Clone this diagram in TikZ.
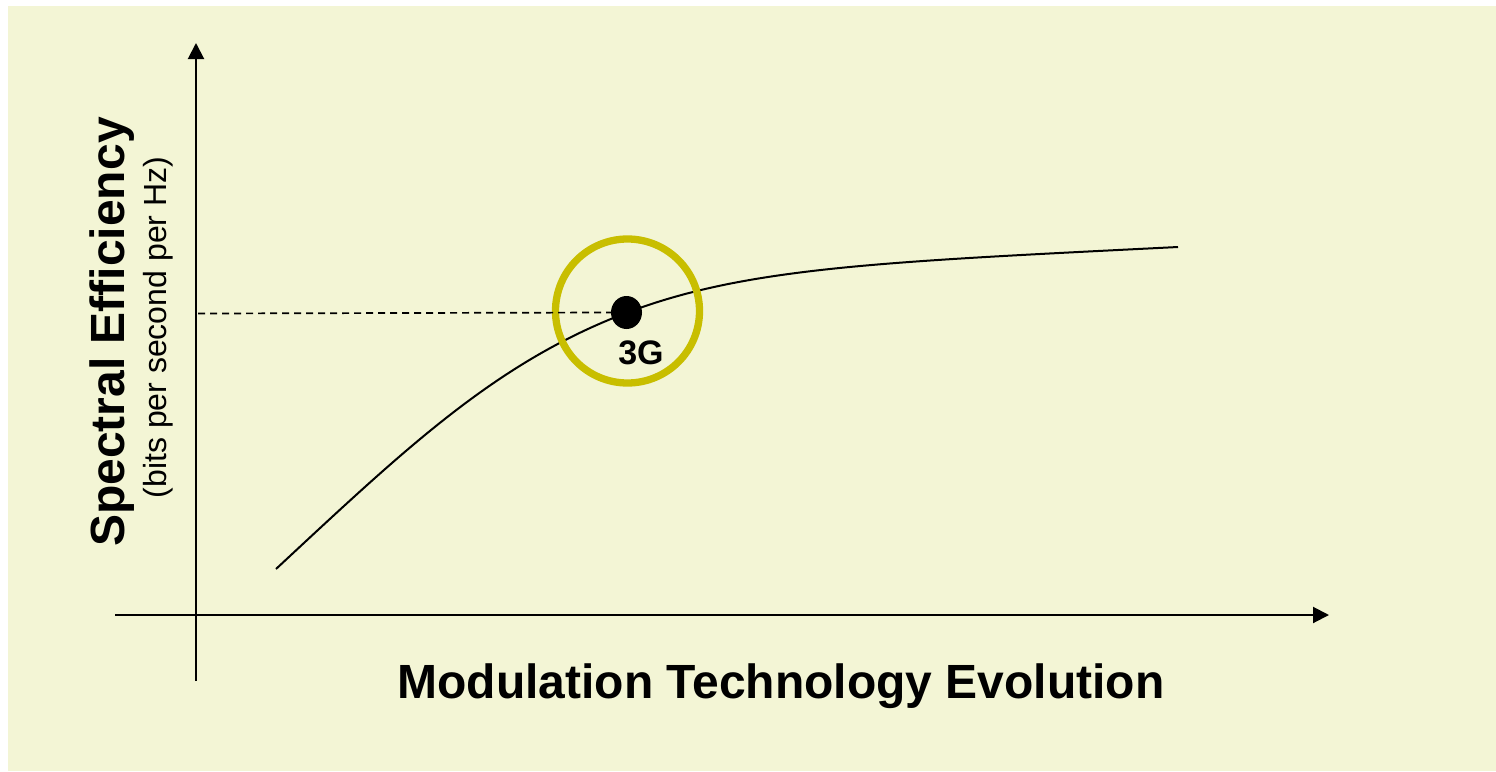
\documentclass[tikz,border=0pt]{standalone}
\usepackage{fontspec}
\setmainfont{Liberation Sans}
\usetikzlibrary{arrows.meta,shapes.geometric}
\definecolor{bgyellow}{RGB}{243,245,213}
\definecolor{ringolive}{RGB}{200,190,0}
\tikzset{
  axisline/.style={line width=2pt, draw=black},
  axisarrow/.style={axisline, -{Triangle[length=16pt,width=16pt]}},
  curveline/.style={line width=2pt, draw=black},
  guideline/.style={line width=1.7pt, draw=black, dash pattern=on 7pt off 5pt},
  bigbold/.style={font=\fontsize{48}{48}\selectfont\bfseries, inner sep=0pt},
  sublabel/.style={font=\fontsize{32}{32}\selectfont, inner sep=0pt},
  dotlabel/.style={font=\fontsize{34}{34}\selectfont\bfseries, inner sep=0pt},
}
\begin{document}
\begin{tikzpicture}[x=1pt,y=-1pt]
\useasboundingbox (0,0) rectangle (1496,771);
\fill[white] (0,0) rectangle (1496,771);
\fill[bgyellow] (8,6) rectangle (1496,771);

% axes
\coordinate (ybot) at (196,681);
\coordinate (ytop) at (196,43);
\coordinate (xleft) at (115,615);
\coordinate (xright) at (1329,615);
\draw[axisarrow] (ybot) -- (ytop);
\draw[axisarrow] (xleft) -- (xright);

% curve
\coordinate (cstart) at (276,569);
\coordinate (cmid) at (626,313);
\coordinate (cend) at (1178,247);
\draw[curveline] (cstart) .. controls (406,448) and (496,362.4) .. (cmid)
  .. controls (746,267.4) and (878,262) .. (cend);

% ring
\node[circle, draw=ringolive, line width=7.3pt, minimum size=144pt, inner sep=0pt] (ring) at (627.5,311) {};

% 3G point
\node[ellipse, fill=black, minimum width=31pt, minimum height=33pt, inner sep=0pt] (dot) at (626.5,312.5) {};
\coordinate (yref) at (198,313.5);
\draw[guideline] (yref) -- (dot.west);
\node[dotlabel, anchor=base] (lbl3g) at (641,364) {3G};

% axis titles
\node[bigbold, anchor=base] (xtitle) at (781,698) {Modulation Technology Evolution};
\node[bigbold, anchor=base, rotate=90] (ytitle) at (124,332) {Spectral Efficiency};
\node[sublabel, anchor=base, rotate=90] (ysub) at (166,327.5) {(bits per second per Hz)};
\end{tikzpicture}
\end{document}
